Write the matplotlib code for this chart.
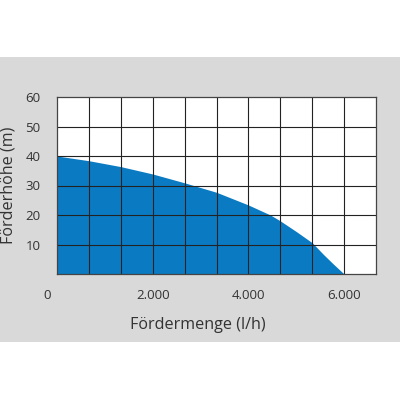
# Förderkennlinie einer Pumpe: Förderhöhe über Fördermenge
import matplotlib.pyplot as plt
import matplotlib.transforms as mtransforms
from matplotlib.patches import Rectangle

plt.rcParams['font.family'] = ['Open Sans', 'DejaVu Sans']

# data
flow_lh = [0, 667, 1333, 2000, 2667, 3333, 4000, 4460, 4667, 5000, 5333, 5570, 5780, 6000]
head_m = [40, 38.4, 36.4, 33.9, 30.9, 27.7, 23.4, 20.0, 18.0, 14.4, 10.6, 6.6, 3.3, 0]

x_ticks = [0, 2000, 4000, 6000]
x_tick_labels = ["0", "2.000", "4.000", "6.000"]
y_ticks = [10, 20, 30, 40, 50, 60]

FILL_COLOR = "#0a7bc2"
BAND_COLOR = "#d9d9d9"
TEXT_COLOR = "#333333"

fig = plt.figure(figsize=(4, 4), dpi=100)
fig.patch.set_facecolor("white")
fig.patches.append(Rectangle((0, 0.145), 1, 0.7125, transform=fig.transFigure,
                             facecolor=BAND_COLOR, edgecolor="none", zorder=-10))

ax = fig.add_axes([0.1425, 0.315, 0.7975, 0.4425])
ax.set_facecolor("white")
ax.fill_between(flow_lh, head_m, 0, color=FILL_COLOR, linewidth=0, zorder=1)

ax.set_xlim(0, 6666.7)
ax.set_ylim(0, 60)

# grid: 10 columns, 6 rows
for i in range(1, 10):
    ax.axvline(i * 666.67, color="#222222", linewidth=0.8, zorder=2)
for v in y_ticks[:-1]:
    ax.axhline(v, color="#222222", linewidth=0.8, zorder=2)
for s in ax.spines.values():
    s.set_color("#444444")
    s.set_linewidth(0.9)
    s.set_zorder(3)

ax.set_xticks(x_ticks)
ax.set_xticklabels(x_tick_labels)
ax.set_yticks(y_ticks)
ax.tick_params(axis="both", length=0, labelsize=9.5, labelcolor=TEXT_COLOR)
ax.tick_params(axis="x", pad=11)
ax.tick_params(axis="y", pad=12)

# the "0" sits a bit left of the axis in the original
zero_lbl = ax.get_xticklabels()[0]
zero_lbl.set_transform(zero_lbl.get_transform() +
                       mtransforms.ScaledTranslation(-10 / 100, 0, fig.dpi_scale_trans))

ax.set_xlabel("Fördermenge (l/h)", fontsize=11.6, color=TEXT_COLOR)
ax.xaxis.set_label_coords(0.442, -0.243)
ax.set_ylabel("Förderhöhe (m)", fontsize=11.6, color=TEXT_COLOR)
ax.yaxis.set_label_coords(-0.128, 0.5)

fig.savefig("out.png", dpi=100)
